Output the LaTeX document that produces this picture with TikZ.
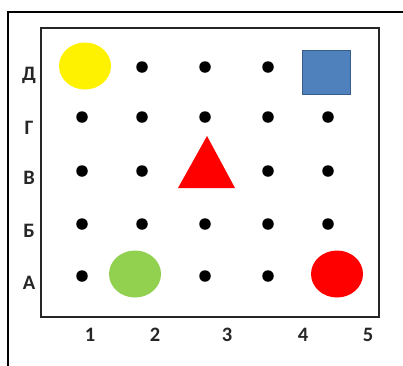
\documentclass[tikz,border=0pt]{standalone}
\usepackage{fontspec}
\setmainfont{Carlito}
\usetikzlibrary{shapes.geometric}
\definecolor{sqfill}{HTML}{4F81BD}
\definecolor{sqdraw}{HTML}{385D8A}
\definecolor{ygreen}{HTML}{92D050}
\begin{document}
\begin{tikzpicture}[x=1pt,y=-1pt,
  dotnode/.style={circle,fill=black,inner sep=0pt,minimum size=11.5pt},
  lbl/.style={font=\fontsize{20.5}{20.5}\selectfont\bfseries,inner sep=0pt,anchor=base,text=black!85},
  blob/.style={ellipse,inner sep=0pt,minimum width=52pt,minimum height=47pt}]
\useasboundingbox (0,0) rectangle (403,365);
\fill[white] (0,0) rectangle (403,365);
% outer frame (only top and left visible)
\draw[line width=1.2pt] (8,370) -- (8,12) -- (410,12);
% inner frame
\draw[line width=2.4pt,black!85] (41,28) rectangle (379,317);
% dots
\foreach \x/\y/\n in {142/67/d2,205/67/d3,268/67/d4,
  82/117/g1,142/117/g2,205/117/g3,268/117/g4,328/117/g5,
  82/171/v1,142/171/v2,268/171/v4,328/171/v5,
  82/224/b1,142/224/b2,205/224/b3,268/224/b4,328/224/b5,
  82/276/a1,205/276/a3,268/276/a4}
  \node[dotnode] (\n) at (\x,\y) {};
% shapes
\node[blob,fill=yellow] (yel) at (85,66) {};
\node[blob,fill=ygreen] (grn) at (135,274) {};
\node[blob,fill=red] (red) at (337,274) {};
\node[rectangle,fill=sqfill,draw=sqdraw,line width=1.5pt,minimum width=48pt,minimum height=44pt,inner sep=0pt] (sq) at (326.5,72.5) {};
\fill[red] (207,136) -- (235,188) -- (178,188) -- cycle;
% row labels
\node[lbl] (lD) at (29,80.5) {Д};
\node[lbl] (lG) at (29,134.5) {Г};
\node[lbl] (lV) at (29,184.5) {В};
\node[lbl] (lB) at (29,237.5) {Б};
\node[lbl] (lA) at (29,289.5) {А};
% column labels
\node[lbl] (c1) at (90,341) {1};
\node[lbl] (c2) at (155,341) {2};
\node[lbl] (c3) at (227,341) {3};
\node[lbl] (c4) at (303,341) {4};
\node[lbl] (c5) at (368,341) {5};
\end{tikzpicture}
\end{document}
